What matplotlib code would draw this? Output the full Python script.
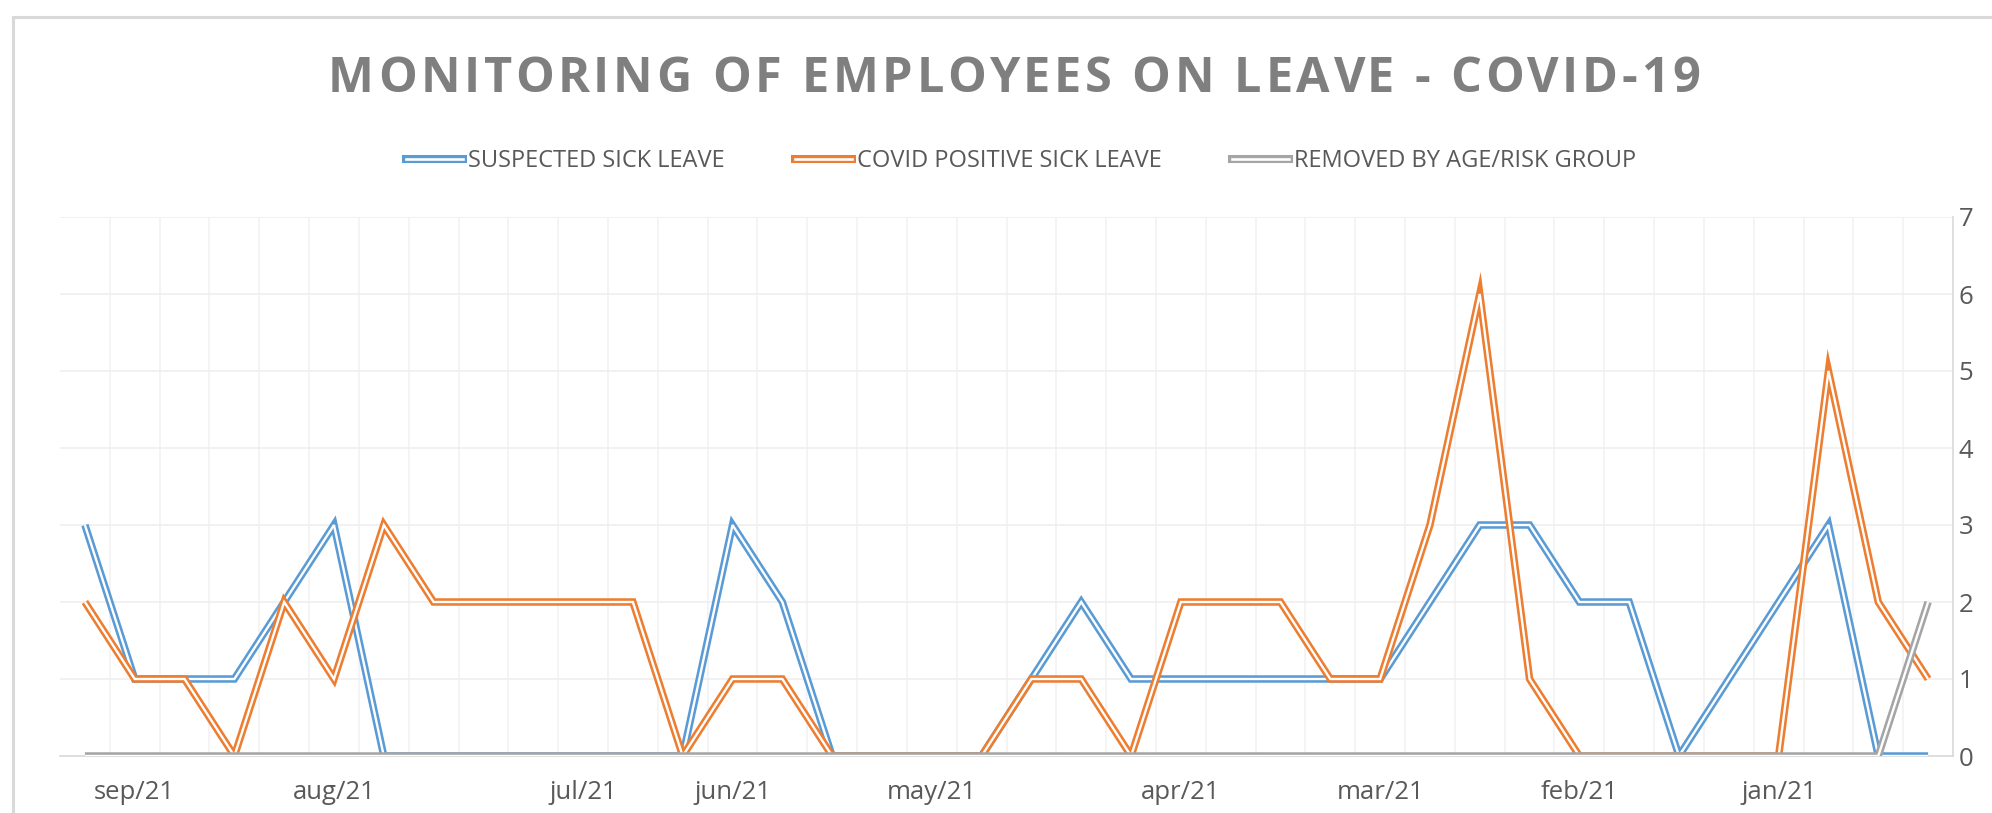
import matplotlib.pyplot as plt
from matplotlib.lines import Line2D
from matplotlib.patches import Rectangle
from matplotlib.legend_handler import HandlerTuple

################################################
# Weekly count of employees on leave (x axis runs from sep/21 back to jan/21)

semanas = list(range(38))

suspeitos = [3, 1, 1, 1, 2, 3, 0, 0, 0, 0, 0, 0, 0, 3, 2, 0, 0, 0, 0,
             1, 2, 1, 1, 1, 1, 1, 1, 2, 3, 3, 2, 2, 0, 1, 2, 3, 0, 0]
positivos = [2, 1, 1, 0, 2, 1, 3, 2, 2, 2, 2, 2, 0, 1, 1, 0, 0, 0, 0,
             1, 1, 0, 2, 2, 2, 1, 1, 3, 6, 1, 0, 0, 0, 0, 0, 5, 2, 1]
removidos = [0, 0, 0, 0, 0, 0, 0, 0, 0, 0, 0, 0, 0, 0, 0, 0, 0, 0, 0,
             0, 0, 0, 0, 0, 0, 0, 0, 0, 0, 0, 0, 0, 0, 0, 0, 0, 0, 2]

rotulos_meses = ['sep/21', 'aug/21', 'jul/21', 'jun/21', 'may/21',
                 'apr/21', 'mar/21', 'feb/21', 'jan/21']
posicoes_meses = [1, 5, 10, 13, 17, 22, 26, 30, 34]

series = [
    ('SUSPECTED SICK LEAVE', suspeitos, '#5B9BD5'),
    ('COVID POSITIVE SICK LEAVE', positivos, '#ED7D31'),
    ('REMOVED BY AGE/RISK GROUP', removidos, '#A5A5A5'),
]

TITULO = 'MONITORING OF EMPLOYEES ON LEAVE - COVID-19'
FONTE = 'Open Sans'
LW_FORA = 5.4
LW_DENTRO = 1.7
W, H = 1992, 813


# Excel style "double" line: thick colored stroke with a white core
def LinhaDupla(ax, x, y, cor, z):
    ax.plot(x, y, color=cor, lw=LW_FORA, solid_joinstyle='miter',
            solid_capstyle='butt', zorder=z)
    ax.plot(x, y, color='white', lw=LW_DENTRO, solid_joinstyle='miter',
            solid_capstyle='butt', zorder=z + 0.5)


# Title with extra letter spacing (Excel "expanded" text)
def TituloEspacado(fig, texto, cx, cy, largura_alvo, **kw):
    r = fig.canvas.get_renderer()

    def largura(s):
        t = fig.text(0, 0, s + 'M', **kw)
        w = t.get_window_extent(r).width
        t.remove()
        return w

    base = largura('')
    pos = [largura(texto[:i]) - base for i in range(len(texto) + 1)]
    natural = pos[-1]
    extra = (largura_alvo - natural) / (len(texto) - 1)
    x0 = cx - largura_alvo / 2
    for i, c in enumerate(texto):
        fig.text((x0 + pos[i] + i * extra) / W, cy, c, ha='left', va='center', **kw)


def GerarGrafico():
    fig = plt.figure(figsize=(W / 100, H / 100), dpi=100)
    fig.patch.set_facecolor('white')

    # chart border (cut by the image on right and bottom)
    fig.patches.append(Rectangle((13 / W, -0.1), 1.2, (H - 17) / H + 0.1,
                                 transform=fig.transFigure, fill=False,
                                 edgecolor='#D9D9D9', lw=2.2))

    ax = fig.add_axes([60 / W, 1 - 756 / H, (1953 - 60) / W, (756 - 217) / H])

    for i, (nome, valores, cor) in enumerate(series):
        LinhaDupla(ax, semanas, valores, cor, 3 + i)

    ax.set_xlim(-0.5, len(semanas) - 0.5)
    ax.set_ylim(0, 7)

    ax.set_xticks(posicoes_meses)
    ax.set_xticklabels(rotulos_meses, fontsize=18.5, color='#595959', family=FONTE)
    ax.set_xticks([k + 0.5 for k in semanas[:-1]], minor=True)
    ax.tick_params(axis='x', which='both', length=0, pad=17)

    ax.yaxis.tick_right()
    ax.set_yticks(range(8))
    ax.set_yticklabels([str(v) for v in range(8)], fontsize=18.5,
                       color='#595959', family=FONTE)
    ax.tick_params(axis='y', length=0, pad=4)

    ax.grid(axis='y', which='major', color='#EFEFEF', lw=1.2, zorder=0)
    ax.grid(axis='x', which='minor', color='#F2F2F2', lw=1.2, zorder=0)

    for lado in ['top', 'left']:
        ax.spines[lado].set_visible(False)
    for lado in ['right', 'bottom']:
        ax.spines[lado].set_color('#D9D9D9')
        ax.spines[lado].set_linewidth(1.2)

    TituloEspacado(fig, TITULO, 1014, 1 - 80 / H, 1372,
                   fontsize=35, fontweight='bold', color='#7F7F7F', family=FONTE)

    handles = []
    for nome, valores, cor in series:
        handles.append((Line2D([], [], color=cor, lw=LW_FORA + 0.4),
                        Line2D([], [], color='white', lw=LW_DENTRO + 0.2)))
    fig.legend(handles, [s[0] for s in series], loc='center',
               bbox_to_anchor=(1021 / W, 1 - 161 / H), ncol=3, frameon=False,
               handler_map={tuple: HandlerTuple(ndivide=1)},
               prop={'family': FONTE, 'size': 17}, labelcolor='#595959',
               handlelength=2.4, handletextpad=0.2, columnspacing=3.0)

    plt.savefig('out.png', dpi=100)
    plt.close()


GerarGrafico()
